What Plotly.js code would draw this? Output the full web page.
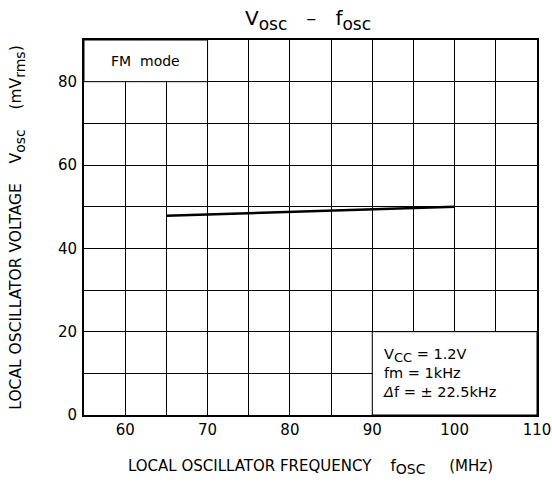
<!DOCTYPE html>
<html>
<head>
<meta charset="utf-8">
<script src="https://cdn.plot.ly/plotly-3.0.1.min.js"></script>
<style>html,body{margin:0;padding:0;background:#fff}</style>
</head>
<body>
<div id="chart" style="width:552px;height:483px"></div>
<script>
// Data
const freqMHz = [65, 100];
const voscMv = [47.8, 50.0];
const xTickVals = [55, 60, 65, 70, 75, 80, 85, 90, 95, 100, 105, 110];
const xTickText = ['', '60', '', '70', '', '80', '', '90', '', '100', '', '110'];
const yTickVals = [0, 10, 20, 30, 40, 50, 60, 70, 80, 90];
const yTickText = ['0', '', '20', '', '40', '', '60', '', '80', ''];

const font = 'DejaVu Sans, sans-serif';

const trace = {
  x: freqMHz, y: voscMv, mode: 'lines', type: 'scatter',
  line: {color: '#000', width: 2.5}, hoverinfo: 'skip', showlegend: false
};

const layout = {
  width: 552, height: 483,
  margin: {l: 84, r: 15, t: 40, b: 68},
  paper_bgcolor: '#fff', plot_bgcolor: '#fff',
  font: {family: font, color: '#000', size: 14},
  title: {
    text: 'V<sub><span style="font-size:17px">osc</span></sub>   –   f<sub><span style="font-size:17px">osc</span></sub>',
    font: {family: font, size: 20, color: '#000'},
    x: 0.558, xanchor: 'center', y: 0.962, yanchor: 'middle', yref: 'container'
  },
  xaxis: {
    range: [55, 110], tickmode: 'array', tickvals: xTickVals, ticktext: xTickText,
    showgrid: true, gridcolor: '#000', gridwidth: 1, zeroline: false,
    showline: true, linecolor: '#000', linewidth: 2, mirror: true,
    ticks: '', tickfont: {size: 15, family: font},
    title: {text: 'LOCAL OSCILLATOR FREQUENCY    f<sub><span style="font-size:14px">OSC</span></sub>     (MHz)', font: {size: 15, family: font}, standoff: 22},
    automargin: false, fixedrange: true
  },
  yaxis: {
    range: [0, 90], tickmode: 'array', tickvals: yTickVals, ticktext: yTickText,
    showgrid: true, gridcolor: '#000', gridwidth: 1, zeroline: false,
    showline: true, linecolor: '#000', linewidth: 2, mirror: true,
    ticks: '', tickfont: {size: 15, family: font}, ticklabelstandoff: 2,
    title: {text: 'LOCAL OSCILLATOR VOLTAGE    V<sub><span style="font-size:14px">osc</span></sub>    (mV<sub><span style="font-size:14px">rms</span></sub>)', font: {size: 15.5, family: font}, standoff: 32},
    automargin: false, fixedrange: true
  },
  shapes: [
    {type: 'rect', xref: 'x', yref: 'y', x0: 55, x1: 70, y0: 80, y1: 90,
     fillcolor: '#fff', line: {color: '#000', width: 1}, layer: 'between'},
    {type: 'rect', xref: 'x', yref: 'y', x0: 90, x1: 110, y0: 0, y1: 20,
     fillcolor: '#fff', line: {color: '#000', width: 1}, layer: 'between'}
  ],
  annotations: [
    {xref: 'x', yref: 'y', x: 62.5, y: 85, text: 'FM  mode', showarrow: false,
     font: {size: 14, family: font}, xanchor: 'center', yanchor: 'middle'},
    {xref: 'x', yref: 'y', x: 91.0, y: 10.2,
     text: 'V<sub><span style="font-size:13px">CC</span></sub> = 1.2V<br>fm = 1kHz<br><i>Δ</i>f = ± 22.5kHz',
     showarrow: false, align: 'left', font: {size: 14.5, family: font},
     xanchor: 'left', yanchor: 'middle'}
  ]
};

Plotly.newPlot('chart', [trace], layout, {displayModeBar: false, staticPlot: true});
</script>
</body>
</html>
